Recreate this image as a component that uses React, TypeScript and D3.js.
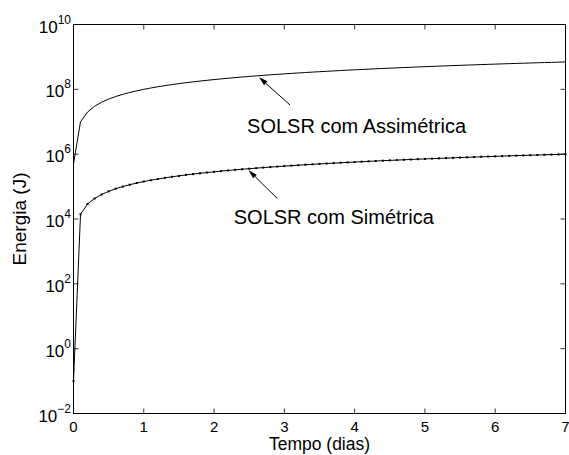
import React from "react";
import * as d3 from "d3";

// time samples (days)
const times = [
  0, 0.1, 0.2, 0.3, 0.4, 0.5, 0.6, 0.7, 0.8, 0.9,
  1.0, 1.1, 1.2, 1.3, 1.4, 1.5, 1.6, 1.7, 1.8, 1.9,
  2.0, 2.1, 2.2, 2.3, 2.4, 2.5, 2.6, 2.7, 2.8, 2.9,
  3.0, 3.1, 3.2, 3.3, 3.4, 3.5, 3.6, 3.7, 3.8, 3.9,
  4.0, 4.1, 4.2, 4.3, 4.4, 4.5, 4.6, 4.7, 4.8, 4.9,
  5.0, 5.1, 5.2, 5.3, 5.4, 5.5, 5.6, 5.7, 5.8, 5.9,
  6.0, 6.1, 6.2, 6.3, 6.4, 6.5, 6.6, 6.7, 6.8, 6.9,
  7.0,
];

// SOLSR com Assimétrica, energy in units of 1e7 J
const assimetricaE7 = [
  0.05, 1, 2, 3, 4, 5, 6, 7, 8, 9,
  10, 11, 12, 13, 14, 15, 16, 17, 18, 19,
  20, 21, 22, 23, 24, 25, 26, 27, 28, 29,
  30, 31, 32, 33, 34, 35, 36, 37, 38, 39,
  40, 41, 42, 43, 44, 45, 46, 47, 48, 49,
  50, 51, 52, 53, 54, 55, 56, 57, 58, 59,
  60, 61, 62, 63, 64, 65, 66, 67, 68, 69,
  70,
];

// SOLSR com Simétrica, energy in units of 1e4 J
const simetricaE4 = [
  0.00001, 1.4, 2.9, 4.3, 5.7, 7.1, 8.6, 10, 11.4, 12.9,
  14.3, 15.7, 17.1, 18.6, 20, 21.4, 22.9, 24.3, 25.7, 27.1,
  28.6, 30, 31.4, 32.9, 34.3, 35.7, 37.1, 38.6, 40, 41.4,
  42.9, 44.3, 45.7, 47.1, 48.6, 50, 51.4, 52.9, 54.3, 55.7,
  57.1, 58.6, 60, 61.4, 62.9, 64.3, 65.7, 67.1, 68.6, 70,
  71.4, 72.9, 74.3, 75.7, 77.1, 78.6, 80, 81.4, 82.9, 84.3,
  85.7, 87.1, 88.6, 90, 91.4, 92.9, 94.3, 95.7, 97.1, 98.6,
  100,
];

const xTicks = [0, 1, 2, 3, 4, 5, 6, 7];
const yTickExps = [-2, 0, 2, 4, 6, 8, 10];

// annotations in data coords
const annLabels = ["SOLSR com Assimétrica", "SOLSR com Simétrica"];
const annText = [[2.47, 4.5e6], [2.28, 7.2e3]];
const annTail = [[3.08, 3.3e7], [2.9, 4.3e4]];
const annTip = [[2.64, 2.35e8], [2.49, 3.2e5]];

const W = 569, H = 455;
const L = 73.5, R = 565.5, T = 24.5, B = 413.5;

export default function App() {
  const x = d3.scaleLinear().domain([0, 7]).range([L, R]);
  const y = d3.scaleLog().domain([1e-2, 1e10]).range([B, T]);

  const up = times.map((t, i) => [t, assimetricaE7[i] * 1e7] as [number, number]);
  const lo = times.map((t, i) => [t, simetricaE4[i] * 1e4] as [number, number]);
  const line = d3.line<[number, number]>().x(d => x(d[0])).y(d => y(d[1]));

  const font = "Liberation Sans, Arial, Helvetica, sans-serif";
  const tl = 5;

  const arrows = annTip.map((tip, i) => {
    const tx = x(tip[0]), ty = y(tip[1]);
    const sx = x(annTail[i][0]), sy = y(annTail[i][1]);
    const dx = tx - sx, dy = ty - sy;
    const len = Math.hypot(dx, dy);
    const ux = dx / len, uy = dy / len;
    const hl = 9, hw = 2.6;
    const bx = tx - ux * hl, by = ty - uy * hl;
    const p1 = [bx - uy * hw, by + ux * hw];
    const p2 = [bx + uy * hw, by - ux * hw];
    return { tx, ty, sx, sy, bx, by, p1, p2 };
  });

  return (
    <svg width={W} height={H} style={{ position: "absolute", left: 0, top: 0, background: "#fff" }} fontFamily={font}>
      <rect x={0} y={0} width={W} height={H} fill="#fff" />
      {xTicks.map(t => (
        <g key={"xt" + t}>
          <line x1={x(t)} x2={x(t)} y1={B} y2={B - tl} stroke="#000" strokeWidth={0.8} />
          <line x1={x(t)} x2={x(t)} y1={T} y2={T + tl} stroke="#000" strokeWidth={0.8} />
          <text x={x(t)} y={431.5} fontSize={15} textAnchor="middle">{t}</text>
        </g>
      ))}
      {yTickExps.map(e => (
        <g key={"yt" + e}>
          <line x1={L} x2={L + tl} y1={y(Math.pow(10, e))} y2={y(Math.pow(10, e))} stroke="#000" strokeWidth={0.8} />
          <line x1={R} x2={R - tl} y1={y(Math.pow(10, e))} y2={y(Math.pow(10, e))} stroke="#000" strokeWidth={0.8} />
          <text x={L - 2.5} y={y(Math.pow(10, e)) + 8} fontSize={17} textAnchor="end">
            10<tspan dy={-9} fontSize={12}>{e < 0 ? "\u2212" + Math.abs(e) : String(e)}</tspan>
          </text>
        </g>
      ))}
      <path d={line(up) || ""} fill="none" stroke="#000" strokeWidth={1} />
      <path d={line(lo) || ""} fill="none" stroke="#000" strokeWidth={1} />
      {lo.map((d, i) => (
        <rect key={"m" + i} x={x(d[0]) - 1} y={y(d[1]) - 1} width={2} height={2} fill="#000" />
      ))}
      <rect x={L} y={T} width={R - L} height={B - T} fill="none" stroke="#000" strokeWidth={1} />
      {arrows.map((a, i) => (
        <g key={"a" + i}>
          <line x1={a.sx} y1={a.sy} x2={a.bx} y2={a.by} stroke="#000" strokeWidth={1} />
          <polygon points={`${a.tx},${a.ty} ${a.p1[0]},${a.p1[1]} ${a.p2[0]},${a.p2[1]}`} fill="#000" />
          <text x={x(annText[i][0])} y={y(annText[i][1])} fontSize={20}>{annLabels[i]}</text>
        </g>
      ))}
      <text x={(L + R) / 2} y={450} fontSize={17.5} textAnchor="middle">Tempo (dias)</text>
      <text transform={`translate(26,${(T + B) / 2}) rotate(-90)`} fontSize={19} textAnchor="middle">Energia (J)</text>
    </svg>
  );
}
